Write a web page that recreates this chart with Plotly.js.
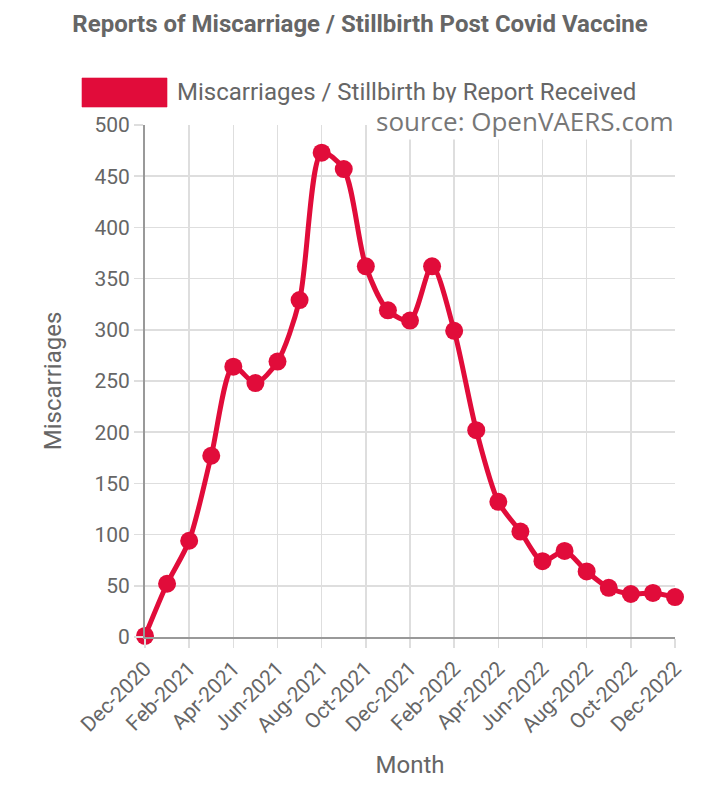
<!DOCTYPE html>
<html><head><meta charset="utf-8">
<script src="https://cdn.plot.ly/plotly-3.0.1.min.js"></script>
<style>html,body{margin:0;padding:0;background:#fff}#chart{width:720px;height:799px}</style>
</head><body><div id="chart"></div>
<script>
const months = ["Dec-2020","Jan-2021","Feb-2021","Mar-2021","Apr-2021","May-2021","Jun-2021","Jul-2021","Aug-2021","Sep-2021","Oct-2021","Nov-2021","Dec-2021","Jan-2022","Feb-2022","Mar-2022","Apr-2022","May-2022","Jun-2022","Jul-2022","Aug-2022","Sep-2022","Oct-2022","Nov-2022","Dec-2022"];
const miscarriages = [1,52,94,177,264,248,269,329,473,457,362,319,309,362,299,202,132,103,74,84,64,48,42,43,39];
const tickLabels = ["Dec-2020","Feb-2021","Apr-2021","Jun-2021","Aug-2021","Oct-2021","Dec-2021","Feb-2022","Apr-2022","Jun-2022","Aug-2022","Oct-2022","Dec-2022"];
const seriesName = "Miscarriages / Stillbirth by Report Received";
const red = "#e10c3a";
const grey = "#666";

const trace = {
  x: months, y: miscarriages, type: "scatter", mode: "lines+markers",
  name: seriesName, showlegend: false,
  line: {color: red, width: 5, shape: "spline", smoothing: 0.8},
  marker: {color: red, size: 18},
  cliponaxis: false
};

const layout = {
  width: 720, height: 799,
  margin: {l: 145, r: 45, t: 125, b: 162},
  paper_bgcolor: "#fff", plot_bgcolor: "#fff",
  font: {family: "Roboto, sans-serif", color: grey},
  title: {text: "<b>Reports of Miscarriage / Stillbirth Post Covid Vaccine</b>", x: 0.5, xanchor: "center",
    y: 1 - 24/799, yanchor: "middle", yref: "container",
    font: {family: "Roboto, sans-serif", size: 24, color: grey}},
  xaxis: {
    type: "category", range: [0, 24],
    tickvals: tickLabels, ticktext: tickLabels, tickangle: -45,
    tickfont: {size: 21, color: grey},
    showgrid: true, gridcolor: "#dedede", gridwidth: 1.5,
    ticks: "outside", ticklen: 9, tickcolor: "#dedede", tickwidth: 1.5,
    showline: true, linecolor: "#999", linewidth: 2,
    zeroline: false,
    title: {text: "Month", font: {size: 24, color: grey}, standoff: 20}
  },
  yaxis: {
    range: [0, 500], dtick: 50, tick0: 0,
    tickfont: {size: 21, color: grey},
    showgrid: true, gridcolor: "#dedede", gridwidth: 1.5,
    ticks: "outside", ticklen: 9, tickcolor: "#dedede", tickwidth: 1.5,
    showline: true, linecolor: "#999", linewidth: 2,
    zeroline: false,
    title: {text: "Miscarriages", font: {size: 24, color: grey}, standoff: 26}
  },
  shapes: [
    {type: "rect", xref: "paper", yref: "paper",
     x0: (82-145)/530, x1: (167-145)/530, y0: (637-107)/512, y1: (637-78)/512,
     fillcolor: red, line: {color: "rgba(225,12,58,0.6)", width: 1}}
  ],
  annotations: [
    {text: seriesName, xref: "paper", yref: "paper", x: (175-145)/530, y: (637-92)/512,
     xanchor: "left", yanchor: "middle", showarrow: false,
     font: {size: 24, color: grey, family: "Roboto, sans-serif"}},
    {text: "source: OpenVAERS.com", xref: "paper", yref: "paper", x: (675-145)/530, y: (637-121)/512,
     xanchor: "right", yanchor: "middle", showarrow: false, bgcolor: "#fff", borderpad: 0,
     font: {size: 26, color: "#777", family: "'Open Sans', sans-serif"}}
  ]
};

Plotly.newPlot("chart", [trace], layout, {displayModeBar: false, staticPlot: true});
</script>
</body></html>
